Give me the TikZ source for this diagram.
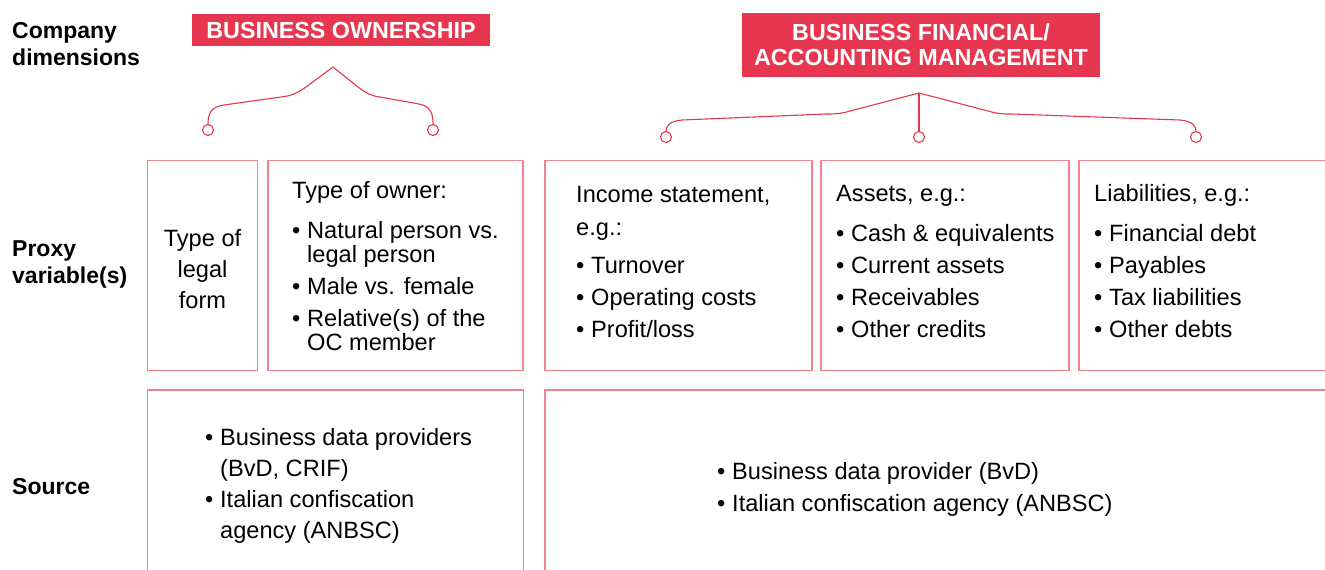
\documentclass[tikz,border=0pt]{standalone}
\usepackage{fontspec}
\setmainfont{Liberation Sans}
\definecolor{hred}{HTML}{E7364F}
\definecolor{bpink}{HTML}{F08391}
\newcommand{\bul}{\makebox[15pt][l]{•}}
\newcommand{\ind}{\hspace*{15pt}}
\begin{document}
\begin{tikzpicture}[x=1pt,y=-1pt,
  hdr/.style={fill=hred,text=white,font=\bfseries\fontsize{23.3}{25}\selectfont,inner sep=0pt,align=center},
  lbl/.style={font=\bfseries\fontsize{23}{27}\selectfont,anchor=base west,align=left,inner sep=0pt},
  txt/.style={anchor=base west,align=left,inner sep=0pt},
  cell/.style={draw=bpink,line width=1.2pt,inner sep=0pt},
  brace/.style={draw=hred,line width=1.1pt,line join=round},
  dot/.style={circle,draw=hred,line width=1.1pt,fill=white,minimum size=11pt,inner sep=0pt}]
\useasboundingbox (0,0) rectangle (1325,570);

% row labels (multi-line nodes are anchored at the baseline of their last line)
\node[lbl] (lcd) at (12,65) {Company\\dimensions};
\node[lbl] (lpv) at (12,283) {Proxy\\variable(s)};
\node[lbl] (lsrc) at (12,494) {Source};

% headers
\node[hdr,minimum width=298pt,minimum height=32pt] (own) at (341,30) {BUSINESS OWNERSHIP};
\node[hdr,minimum width=358pt,minimum height=64pt] (fin) at (921,45) {BUSINESS FINANCIAL/\\ACCOUNTING MANAGEMENT};

% brace 1
\coordinate (a1) at (333,67);
\node[dot] (c1) at (208,130) {};
\node[dot] (c2) at (433,130) {};
\draw[brace] (a1) -- (306,87) .. controls (296,94) and (290,96) .. (281,97) -- (224,105)
  .. controls (212,107) and (208,112) .. (c1.north);
\draw[brace] (a1) -- (358,87) .. controls (367,94) and (372,96) .. (380,97) -- (419,104)
  .. controls (429,106) and (433,111) .. (c2.north);

% brace 2
\coordinate (a2) at (919,93);
\node[dot] (c3) at (666,137) {};
\node[dot] (c4) at (919,137) {};
\node[dot] (c5) at (1196,137) {};
\draw[brace] (a2) -- (850,111) .. controls (840,114) and (835,114) .. (826,114) -- (682,120)
  .. controls (670,121) and (666,126) .. (c3.north);
\draw[brace] (a2) -- (c4.north);
\draw[brace] (a2) -- (988,111) .. controls (998,114) and (1003,114) .. (1012,114) -- (1180,120)
  .. controls (1192,121) and (1196,126) .. (c5.north);

% proxy row cells
\node[cell,minimum width=110pt,minimum height=210pt] (bA) at (202.5,265.5) {};
\node[cell,minimum width=255pt,minimum height=210pt] (bB) at (395.5,265.5) {};
\node[cell,minimum width=267pt,minimum height=210pt] (bC) at (678.5,265.5) {};
\node[cell,minimum width=248pt,minimum height=210pt] (bD) at (945,265.5) {};
\draw[cell] (1325,160.5) -- (1079,160.5) -- (1079,370.5) -- (1325,370.5);

% source row cells
\draw[cell] (147.5,570) -- (147.5,390) -- (523.5,390) -- (523.5,570);
\draw[cell] (545,570) -- (545,390) -- (1325,390);

% proxy texts
\node[txt,anchor=base,align=center,font=\fontsize{23.6}{31}\selectfont] (tA) at (202.5,308) {Type of\\legal\\form};
\node[txt,font=\fontsize{23.6}{24}\selectfont] (tB) at (292,350)
  {Type of owner:\\[16pt]\bul Natural person vs.\\\ind legal person\\[8pt]\bul Male vs. female\\[8pt]\bul Relative(s) of the\\\ind OC member};
\node[txt,font=\fontsize{23.6}{33}\selectfont] (tC) at (576,337)
  {Income statement,\\e.g.:\\[5pt]\bul Turnover\\[-1pt]\bul Operating costs\\[-1pt]\bul Profit/loss};
\node[txt,font=\fontsize{23.6}{32}\selectfont] (tD) at (836,337)
  {Assets, e.g.:\\[8pt]\bul Cash \& equivalents\\\bul Current assets\\\bul Receivables\\\bul Other credits};
\node[txt,font=\fontsize{23.6}{32}\selectfont] (tE) at (1094,337)
  {Liabilities, e.g.:\\[8pt]\bul Financial debt\\\bul Payables\\\bul Tax liabilities\\\bul Other debts};

% source texts
\node[txt,font=\fontsize{23.6}{31}\selectfont] (sL) at (205,538)
  {\bul Business data providers\\\ind (BvD, CRIF)\\\bul Italian confiscation\\\ind agency (ANBSC)};
\node[txt,font=\fontsize{23.6}{32}\selectfont] (sR) at (717,511)
  {\bul Business data provider (BvD)\\\bul Italian confiscation agency (ANBSC)};
\end{tikzpicture}
\end{document}
